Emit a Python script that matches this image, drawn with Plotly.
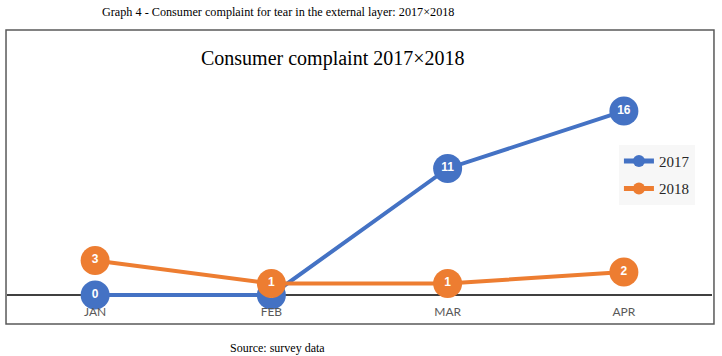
import plotly.graph_objects as go

months = ["JAN", "FEB", "MAR", "APR"]
values_2017 = [0, 0, 11, 16]
values_2018 = [3, 1, 1, 2]
series_names = ["2017", "2018"]

blue = "#4472C4"
orange = "#ED7D31"

fig = go.Figure()
for name, vals, col in [(series_names[0], values_2017, blue), (series_names[1], values_2018, orange)]:
    fig.add_trace(go.Scatter(
        x=months, y=vals, name=name, mode="lines+markers+text",
        legendgroup=name,
        line=dict(color=col, width=4),
        marker=dict(color=col, size=29),
        text=[str(v) for v in vals], textposition="middle center",
        textfont=dict(color="white", size=12, family="Liberation Sans", weight="bold"),
        cliponaxis=False,
    ))

fig.update_layout(
    width=722, height=356, autosize=False,
    margin=dict(l=7, r=10, t=30, b=53),
    paper_bgcolor="white", plot_bgcolor="white",
    showlegend=True,
    legend=dict(x=0.868, y=0.58, xanchor="left", yanchor="top",
                bgcolor="#f7f7f7", font=dict(family="Liberation Serif", size=15, color="#262626"),
                itemwidth=30, itemsizing="constant", traceorder="grouped", tracegroupgap=5),
    xaxis=dict(type="category", range=[-0.5, 3.5], showgrid=False, showline=False,
               ticks="", tickfont=dict(family="Lato", size=12, color="#595959")),
    yaxis=dict(range=[-0.7, 23.04], showgrid=False, showticklabels=False, ticks="",
               zeroline=True, zerolinecolor="#404040", zerolinewidth=2),
    shapes=[dict(type="rect", xref="paper", yref="paper", x0=-0.0014, x1=1.0028,
                 y0=-0.077, y1=1.0, line=dict(color="#595959", width=1.5), layer="below")],
    annotations=[
        dict(text="Consumer complaint 2017×2018", xref="paper", yref="paper", x=0.462, y=0.897,
             xanchor="center", yanchor="middle", showarrow=False,
             font=dict(family="Liberation Serif", size=20, color="black")),
        dict(text="Graph 4 - Consumer complaint for tear in the external layer: 2017×2018",
             xref="paper", yref="paper", x=0.384, y=1.066, xanchor="center", yanchor="middle",
             showarrow=False, font=dict(family="Liberation Serif", size=12.2, color="black")),
        dict(text="Source: survey data", xref="paper", yref="paper", x=0.384, y=-0.165,
             xanchor="center", yanchor="middle", showarrow=False,
             font=dict(family="Liberation Serif", size=12, color="black")),
    ],
)

fig.write_html("out.html", config={"displayModeBar": False},
               post_script="document.body.style.margin='0';")
